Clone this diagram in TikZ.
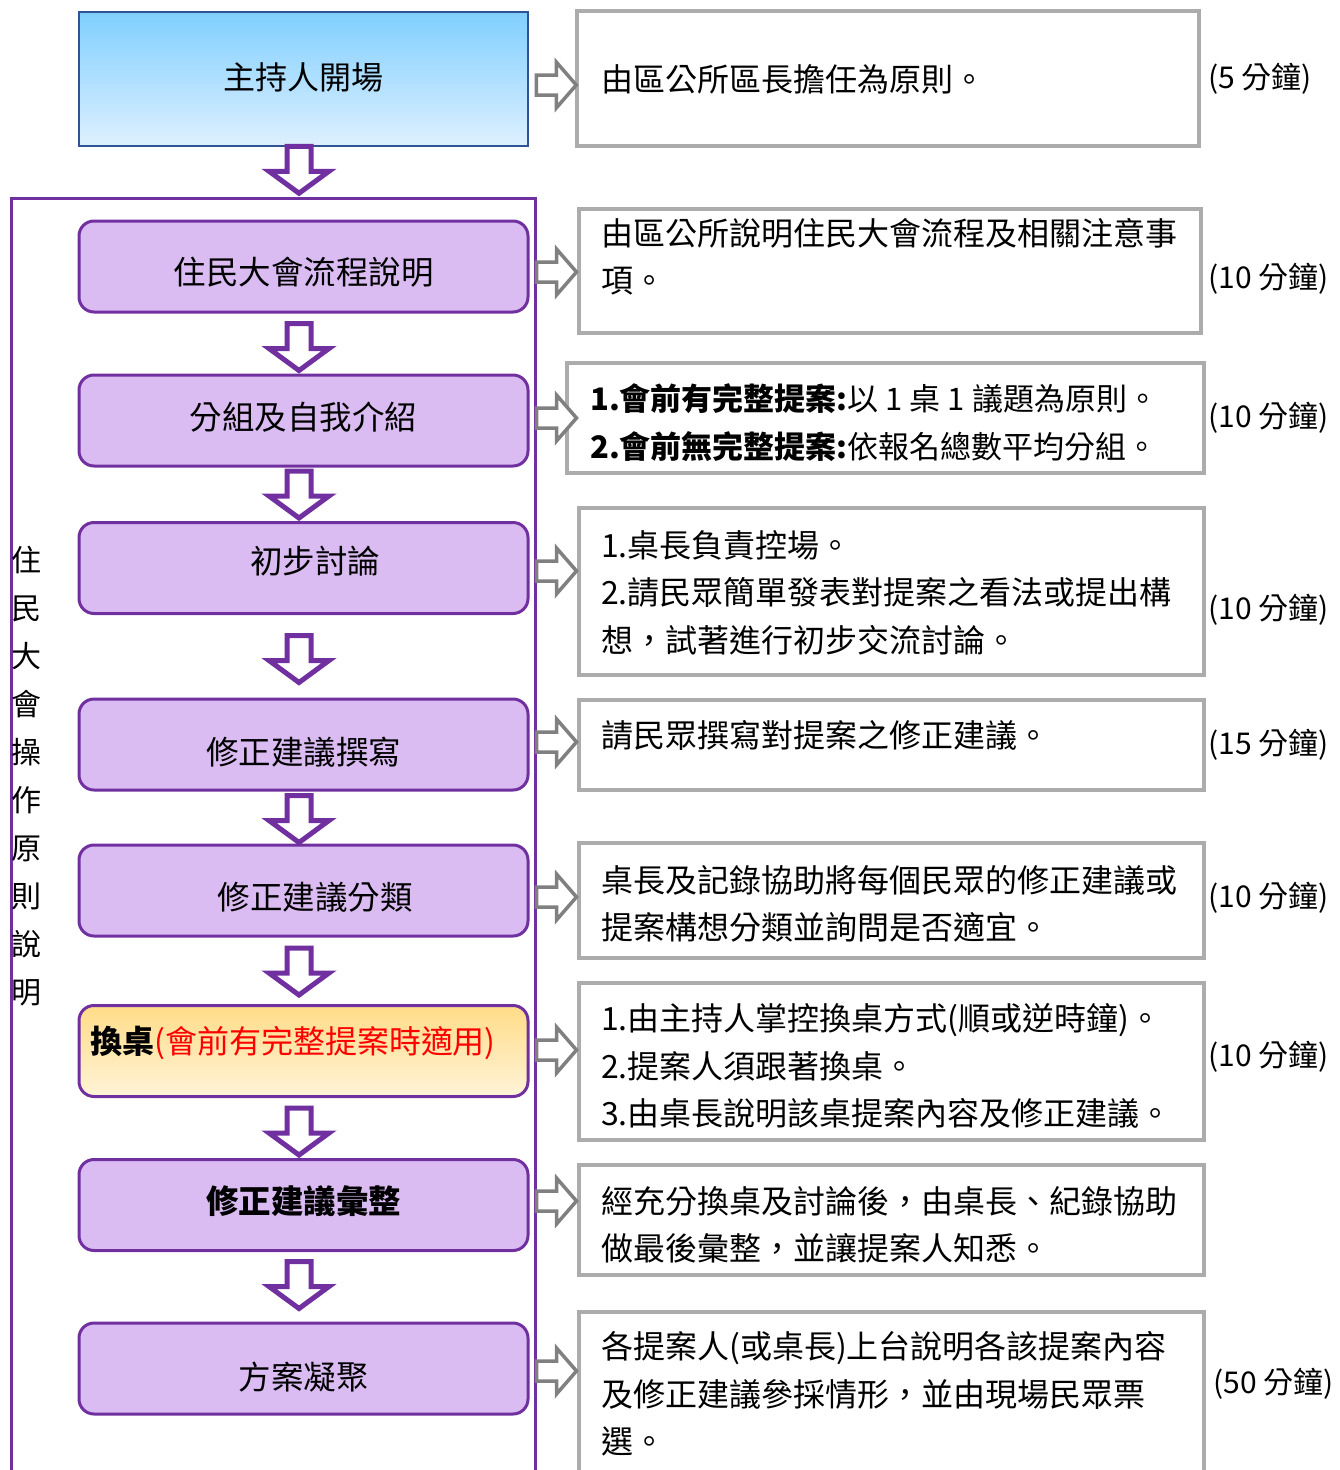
\documentclass[tikz,border=0pt]{standalone}
\usepackage{fontspec}
\setmainfont{Noto Sans CJK TC}
\usetikzlibrary{calc}

\definecolor{flowpurple}{RGB}{112,48,160}
\definecolor{stepfill}{RGB}{218,188,242}
\definecolor{descgray}{RGB}{172,172,172}
\definecolor{arrgray}{RGB}{128,128,128}
\definecolor{openline}{RGB}{47,84,150}
\definecolor{opentop}{RGB}{128,207,255}
\definecolor{openbot}{RGB}{222,240,255}
\definecolor{swaptop}{RGB}{255,220,135}
\definecolor{swapbot}{RGB}{255,243,216}

% 文字上下微調 (正值向下)
\newcommand{\steplabel}[2]{\raisebox{\dimexpr-12.4pt-#1pt\relax}[0pt][0pt]{#2}}

\begin{document}
\begin{tikzpicture}[x=1pt, y=-1pt,
  stepbox/.style={draw=flowpurple, line width=3pt, rounded corners=15pt,
    fill=stepfill, minimum width=449pt, minimum height=91pt, inner sep=0pt,
    font=\fontsize{32.5}{36}\selectfont},
  descbox/.style={draw=descgray, line width=3.5pt, fill=white, inner sep=0pt},
  desctext/.style={anchor=west, inner sep=0pt, align=left,
    font=\fontsize{32}{47.5}\selectfont},
  timetext/.style={anchor=west, inner sep=0pt, font=\fontsize{30}{36}\selectfont},
  downarr/.pic={\draw[flowpurple, line width=5pt, fill=white]
    (-12,-50) -- (12,-50) -- (12,-25) -- (30,-25) -- (0,-3) -- (-30,-25)
    -- (-12,-25) -- cycle;},
  rightarr/.pic={\draw[arrgray, line width=3.5pt, fill=white]
    (-20,-10) -- (0,-10) -- (0,-23) -- (20,0) -- (0,23) -- (0,10)
    -- (-20,10) -- cycle;}
]
\useasboundingbox (0,0) rectangle (1340,1470);

%========================
% 外框與直排標題
%========================
\node[draw=flowpurple, line width=3pt, anchor=north west, inner sep=0pt,
  minimum width=524pt, minimum height=1300pt] (frame) at (10,197) {};
\node[inner sep=0pt, align=center, font=\fontsize{30}{48}\selectfont]
  (sidelabel) at (27,776) {住\\民\\大\\會\\操\\作\\原\\則\\說\\明};

%========================
% 左側流程
%========================
\node[draw=openline, line width=2.5pt, top color=opentop, bottom color=openbot,
  minimum width=449pt, minimum height=134pt, inner sep=0pt,
  font=\fontsize{32}{36}\selectfont] (opening) at (303.5,79) {\steplabel{-2}{主持人開場}};

\node[stepbox] (s1) at (303.5,266.5) {\steplabel{5.5}{住民大會流程說明}};
\node[stepbox] (s2) at (303.5,420.5) {\steplabel{-3.5}{分組及自我介紹}};
\node[stepbox] (s3) at (303.5,568) {\hspace*{23pt}\steplabel{-7}{初步討論}};
\node[stepbox] (s4) at (303.5,744.5) {\steplabel{7.5}{修正建議撰寫}};
\node[stepbox] (s5) at (303.5,890.5) {\hspace*{23pt}\steplabel{6.5}{修正建議分類}};
\node[stepbox, top color=swaptop, bottom color=swapbot,
  font=\fontsize{32}{36}\selectfont] (s6) at (303.5,1051)
  {\steplabel{-10}{\textbf{換桌}\textcolor{red}{(會前有完整提案時適用)}}\hspace*{21pt}};
\node[stepbox] (s7) at (303.5,1205) {\steplabel{-4}{\textbf{修正建議彙整}}};
\node[stepbox] (s8) at (303.5,1368.5) {\steplabel{8.5}{方案凝聚}};

%========================
% 向下箭頭
%========================
\pic at ($(opening.south)+(-4.5,49)$) {downarr};
\foreach \b/\dy in {s2/0, s3/0, s4/-12, s5/2, s6/-6, s7/0, s8/-10}
  \pic at ($(\b.north)+(-4.5,\dy)$) {downarr};

%========================
% 右側說明
%========================
\node[descbox, minimum width=622pt, minimum height=135pt] (d1) at (888,78.5) {};
\node[descbox, minimum width=622pt, minimum height=124pt] (d2) at (890,271) {};
\node[descbox, minimum width=637pt, minimum height=110pt] (d3) at (885.5,418) {};
\node[descbox, minimum width=625pt, minimum height=167pt] (d4) at (891.5,591.5) {};
\node[descbox, minimum width=625pt, minimum height=90pt] (d5) at (891.5,745) {};
\node[descbox, minimum width=625pt, minimum height=115pt] (d6) at (891.5,900.5) {};
\node[descbox, minimum width=625pt, minimum height=157pt] (d7) at (891.5,1061.5) {};
\node[descbox, minimum width=625pt, minimum height=110pt] (d8) at (891.5,1220) {};
\node[descbox, minimum width=625pt, minimum height=180pt, anchor=north] (d9) at (891.5,1310) {};

\node[desctext] (t1) at (601,79) {由區公所區長擔任為原則。};
\node[desctext] (t2) at (601,256.5)
  {由區公所說明住民大會流程及相關注意事\\項。};
\node[desctext, font=\fontsize{31}{48}\selectfont] (t3) at (590,423)
  {\textbf{1.會前有完整提案:}以 1 桌 1 議題為原則。\\
   \textbf{2.會前無完整提案:}依報名總數平均分組。};
\node[desctext] (t4) at (601,592.5)
  {1.桌長負責控場。\\2.請民眾簡單發表對提案之看法或提出構\\想，試著進行初步交流討論。};
\node[desctext] (t5) at (601,735) {請民眾撰寫對提案之修正建議。};
\node[desctext] (t6) at (601,904)
  {桌長及記錄協助將每個民眾的修正建議或\\提案構想分類並詢問是否適宜。};
\node[desctext] (t7) at (601,1066)
  {1.由主持人掌控換桌方式(順或逆時鐘)。\\2.提案人須跟著換桌。\\3.由桌長說明該桌提案內容及修正建議。};
\node[desctext] (t8) at (601,1225)
  {經充分換桌及討論後，由桌長、紀錄協助\\做最後彙整，並讓提案人知悉。};
\node[desctext] (t9) at (601,1394)
  {各提案人(或桌長)上台說明各該提案內容\\及修正建議參採情形，並由現場民眾票\\選。};

%========================
% 向右箭頭
%========================
\foreach \n/\dy in {opening/6, s1/5.5, s2/-2.5, s3/3, s4/-2.5, s5/6.5, s6/-1, s7/-4, s8/2.5}
  \pic at ($(\n.east)+(27,\dy)$) {rightarr};

%========================
% 時間
%========================
\node[timetext] (m1) at (1208,79) {(5 分鐘)};
\node[timetext] (m2) at (1208,279) {(10 分鐘)};
\node[timetext] (m3) at (1208,418) {(10 分鐘)};
\node[timetext] (m4) at (1208,610) {(10 分鐘)};
\node[timetext] (m5) at (1208,745) {(15 分鐘)};
\node[timetext] (m6) at (1208,898) {(10 分鐘)};
\node[timetext] (m7) at (1208,1057) {(10 分鐘)};
\node[timetext] (m9) at (1213,1384) {(50 分鐘)};

\end{tikzpicture}
\end{document}
